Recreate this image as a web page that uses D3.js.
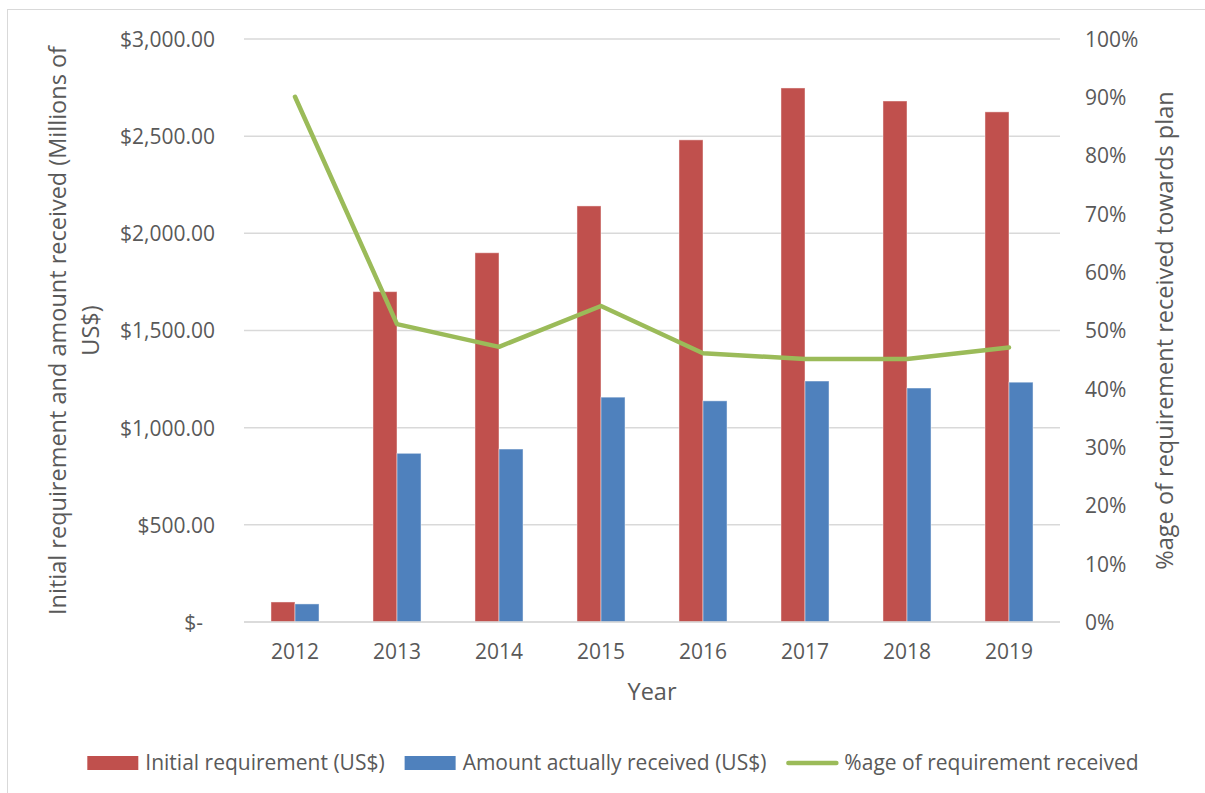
<!DOCTYPE html>
<html>
<head>
<meta charset="utf-8">
<script src="https://cdn.jsdelivr.net/npm/d3@7"></script>
<style>
  body { margin: 0; background: #fff; }
  svg text { font-family: "Open Sans", sans-serif; fill: #595959; }
</style>
</head>
<body>
<svg id="chart" width="1205" height="793"></svg>
<script>
'use strict';

// data
var years = ['2012', '2013', '2014', '2015', '2016', '2017', '2018', '2019'];
var initialRequirement = [103, 1700, 1900, 2141, 2481, 2748, 2681, 2625];
var amountReceived = [93, 868, 890, 1157, 1138, 1240, 1204, 1234];
var pctReceived = [0.901, 0.511, 0.472, 0.542, 0.461, 0.451, 0.451, 0.471];
var leftTicks = [0, 500, 1000, 1500, 2000, 2500, 3000];
var rightTicks = [0, 0.1, 0.2, 0.3, 0.4, 0.5, 0.6, 0.7, 0.8, 0.9, 1];
var seriesNames = ['Initial requirement (US$)', 'Amount actually received (US$)', '%age of requirement received'];
var colors = ['#c0504d', '#4f81bd', '#9bbb59'];

var svg = d3.select('#chart'),
    margin = {top: 39, left: 244},
    width = 816,
    height = 583,
    grid = '#d9d9d9';

// chart border (right and bottom fall outside the picture)
svg.append('rect')
  .attr('x', 7.5).attr('y', 9.5)
  .attr('width', 1220).attr('height', 800)
  .attr('fill', 'none').attr('stroke', grid);

var g = svg.append('g').attr('transform', 'translate(' + margin.left + ',' + margin.top + ')');

var x = d3.scaleBand().domain(years).range([0, width]).paddingInner(0.529).paddingOuter(0.2645),
    xSub = d3.scaleBand().domain([0, 1]).range([0, x.bandwidth()]),
    y = d3.scaleLinear().domain([0, 3000]).range([height, 0]),
    y2 = d3.scaleLinear().domain([0, 1]).range([height, 0]);

// gridlines
g.append('g').selectAll('line').data(leftTicks).join('line')
  .attr('x1', 0).attr('x2', width)
  .attr('y1', function (d) { return y(d); })
  .attr('y2', function (d) { return y(d); })
  .attr('stroke', grid).attr('stroke-width', 1.5);

var fmtMoney = function (d) {
  return d === 0 ? '$-\u2007' : '$' + d3.format(',.2f')(d);
};

var leftAxis = g.append('g')
  .call(d3.axisLeft(y).tickValues(leftTicks).tickFormat(fmtMoney).tickSize(0).tickPadding(29));
leftAxis.select('.domain').remove();
leftAxis.selectAll('text').style('font-size', '21px').attr('dy', '0.35em');

var rightAxis = g.append('g').attr('transform', 'translate(' + width + ',0)')
  .call(d3.axisRight(y2).tickValues(rightTicks).tickFormat(d3.format('.0%')).tickSize(0).tickPadding(25));
rightAxis.select('.domain').remove();
rightAxis.selectAll('text').style('font-size', '21px').attr('dy', '0.35em');

var bottomAxis = g.append('g').attr('transform', 'translate(0,' + height + ')')
  .call(d3.axisBottom(x).tickSize(0).tickPadding(22));
bottomAxis.select('.domain').remove();
bottomAxis.selectAll('text').style('font-size', '21px');

// bars
var barSeries = [initialRequirement, amountReceived];
barSeries.forEach(function (values, s) {
  g.append('g').selectAll('rect').data(values).join('rect')
    .attr('x', function (d, i) { return x(years[i]) + xSub(s); })
    .attr('y', function (d) { return y(d); })
    .attr('width', xSub.bandwidth())
    .attr('height', function (d) { return height - y(d); })
    .attr('fill', colors[s])
    .attr('stroke', 'rgba(255,255,255,0.45)').attr('stroke-width', 1);
});

// baseline over the bars
g.append('line')
  .attr('x1', 0).attr('x2', width).attr('y1', height).attr('y2', height)
  .attr('stroke', grid).attr('stroke-width', 1.5);

// percentage line
var line = d3.line()
  .x(function (d, i) { return x(years[i]) + x.bandwidth() / 2; })
  .y(function (d) { return y2(d); });

g.append('path').datum(pctReceived)
  .attr('d', line)
  .attr('fill', 'none')
  .attr('stroke', colors[2])
  .attr('stroke-width', 4.5)
  .attr('stroke-linecap', 'round')
  .attr('stroke-linejoin', 'round');

// axis titles
var titleSize = '23.5px';
svg.append('text')
  .attr('transform', 'translate(58,' + (margin.top + height / 2) + ') rotate(-90)')
  .attr('text-anchor', 'middle').attr('dy', '0.35em')
  .style('font-size', titleSize)
  .text('Initial requirement and amount received (Millions of');
svg.append('text')
  .attr('transform', 'translate(91,' + (margin.top + height / 2) + ') rotate(-90)')
  .attr('text-anchor', 'middle').attr('dy', '0.35em')
  .style('font-size', titleSize)
  .text('US$)');
svg.append('text')
  .attr('transform', 'translate(1165,' + (margin.top + height / 2) + ') rotate(-90)')
  .attr('text-anchor', 'middle').attr('dy', '0.35em')
  .style('font-size', titleSize)
  .text('%age of requirement received towards plan');
svg.append('text')
  .attr('x', margin.left + width / 2).attr('y', 692)
  .attr('text-anchor', 'middle').attr('dy', '0.35em')
  .style('font-size', titleSize)
  .text('Year');

// legend
var legend = svg.append('g'),
    lx = 0,
    legendY = 763;
seriesNames.forEach(function (name, i) {
  var item = legend.append('g').attr('transform', 'translate(' + lx + ',0)');
  if (i < 2) {
    item.append('rect').attr('x', 0).attr('y', legendY - 7).attr('width', 51).attr('height', 14).attr('fill', colors[i]);
  } else {
    item.append('line').attr('x1', 2).attr('x2', 50).attr('y1', legendY).attr('y2', legendY)
      .attr('stroke', colors[i]).attr('stroke-width', 4.5).attr('stroke-linecap', 'round');
  }
  var t = item.append('text').attr('x', 58).attr('y', legendY).attr('dy', '0.35em')
    .style('font-size', '21px').text(name);
  lx += 58 + t.node().getComputedTextLength() + 20;
});
var legendW = lx - 20;
legend.attr('transform', 'translate(' + (613 - legendW / 2) + ',0)');
</script>
</body>
</html>
